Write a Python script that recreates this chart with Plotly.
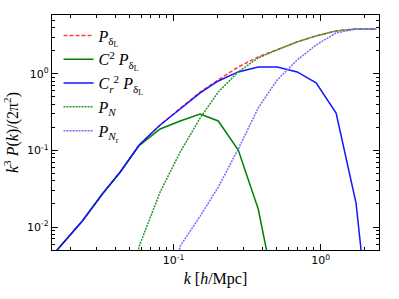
import plotly.graph_objects as go

k = [0.01294, 0.0177, 0.0239, 0.0327, 0.0433, 0.0582, 0.0809, 0.1107, 0.1514,
     0.201, 0.275, 0.376, 0.506, 0.692, 0.931, 1.274, 1.741, 2.39]

P_lin = [0.0031, 0.00618, 0.01197, 0.0270, 0.0524, 0.118, 0.2156, 0.355, 0.58,
         0.835, 1.234, 1.668, 2.06, 2.62, 3.14, 3.65, 3.87, 3.87]
C2_P = [0.0031, 0.00618, 0.01197, 0.0270, 0.0524, 0.116, 0.191, 0.243, 0.300,
        0.243, 0.1015, 0.0172, 0.00102, None, None, None, None, None]
Cr2_P = [0.0031, 0.00618, 0.01197, 0.0270, 0.0524, 0.118, 0.2156, 0.348, 0.565,
         0.810, 1.062, 1.234, 1.234, 1.062, 0.763, 0.309, 0.0206, 0.00007]
P_N = [None, None, None, None, 0.0001, 0.0056, 0.0287, 0.0955, 0.266,
       0.582, 1.062, 1.62, 2.06, 2.62, 3.14, 3.65, 3.87, 3.87]
P_Nr = [None, None, None, None, None, None, 0.0001, 0.00565, 0.0139,
        0.0333, 0.1047, 0.36, 0.835, 1.52, 2.39, 3.43, 3.87, 3.87]

names = ["<i>P</i><sub>δ<sub>L</sub></sub>",
         "<i>C</i><sup>2</sup> <i>P</i><sub>δ<sub>L</sub></sub>",
         "<i>C</i><sub><i>r</i></sub><sup>2</sup> <i>P</i><sub>δ<sub>L</sub></sub>",
         "<i>P</i><sub><i>N</i></sub>",
         "<i>P</i><sub><i>N</i><sub>r</sub></sub>"]

fig = go.Figure()
styles = [
    (P_lin, "rgb(255,60,60)", "4px,2px"),
    (C2_P, "rgb(0,128,0)", "solid"),
    (Cr2_P, "rgb(20,20,255)", "solid"),
    (P_N, "rgb(40,150,40)", "2px,1px"),
    (P_Nr, "rgb(110,110,255)", "2px,1px"),
]
for i, ((vals, col, dash), nm) in enumerate(zip(styles, names)):
    fig.add_trace(go.Scatter(x=k, y=vals, mode="lines", name=nm,
                             legendgroup=f"g{i}",
                             line=dict(color=col, width=1.5, dash=dash),
                             connectgaps=False))

fig.update_layout(
    width=399, height=299,
    margin=dict(l=52, r=20, t=15, b=49, autoexpand=False),
    paper_bgcolor="white", plot_bgcolor="white",
    showlegend=True,
    legend=dict(x=0.02, y=0.985, xanchor="left", yanchor="top",
                bgcolor="rgba(0,0,0,0)", borderwidth=0,
                font=dict(family="Liberation Serif", size=16, color="black"),
                tracegroupgap=0, itemwidth=30),
    font=dict(family="DejaVu Sans", size=11, color="black"),
)
fig.update_xaxes(type="log", range=[-1.828, 0.397], automargin=False,
                 showline=True, linecolor="black", linewidth=1.2, mirror="allticks",
                 ticks="inside", ticklen=6, tickcolor="black",
                 tickvals=[0.1, 1], ticktext=["10<sup>-1</sup>", "10<sup>0</sup>"],
                 minor=dict(ticks="inside", ticklen=3, tickcolor="black",
                            tickvals=[0.02,0.03,0.04,0.05,0.06,0.07,0.08,0.09,
                                      0.2,0.3,0.4,0.5,0.6,0.7,0.8,0.9,2]),
                 showgrid=False, zeroline=False,
                 title=dict(text="<i>k</i> [<i>h</i>/Mpc]", standoff=6,
                            font=dict(family="Liberation Serif", size=16)))
fig.update_yaxes(type="log", range=[-2.30, 0.77], automargin=False,
                 showline=True, linecolor="black", linewidth=1.2, mirror="allticks",
                 ticks="inside", ticklen=6, tickcolor="black",
                 tickvals=[0.01, 0.1, 1],
                 ticktext=["10<sup>-2</sup>", "10<sup>-1</sup>", "10<sup>0</sup>"],
                 minor=dict(ticks="inside", ticklen=3, tickcolor="black",
                            tickvals=[0.006,0.007,0.008,0.009,
                                      0.02,0.03,0.04,0.05,0.06,0.07,0.08,0.09,
                                      0.2,0.3,0.4,0.5,0.6,0.7,0.8,0.9,2,3,4,5]),
                 showgrid=False, zeroline=False,
                 title=dict(text="<i>k</i><sup>3</sup> <i>P</i>(<i>k</i>)/(2π<sup>2</sup>)",
                            standoff=4,
                            font=dict(family="Liberation Serif", size=16)))

fig.write_html("out.html", config={"displayModeBar": False},
               post_script="document.body.style.margin='0px';")
